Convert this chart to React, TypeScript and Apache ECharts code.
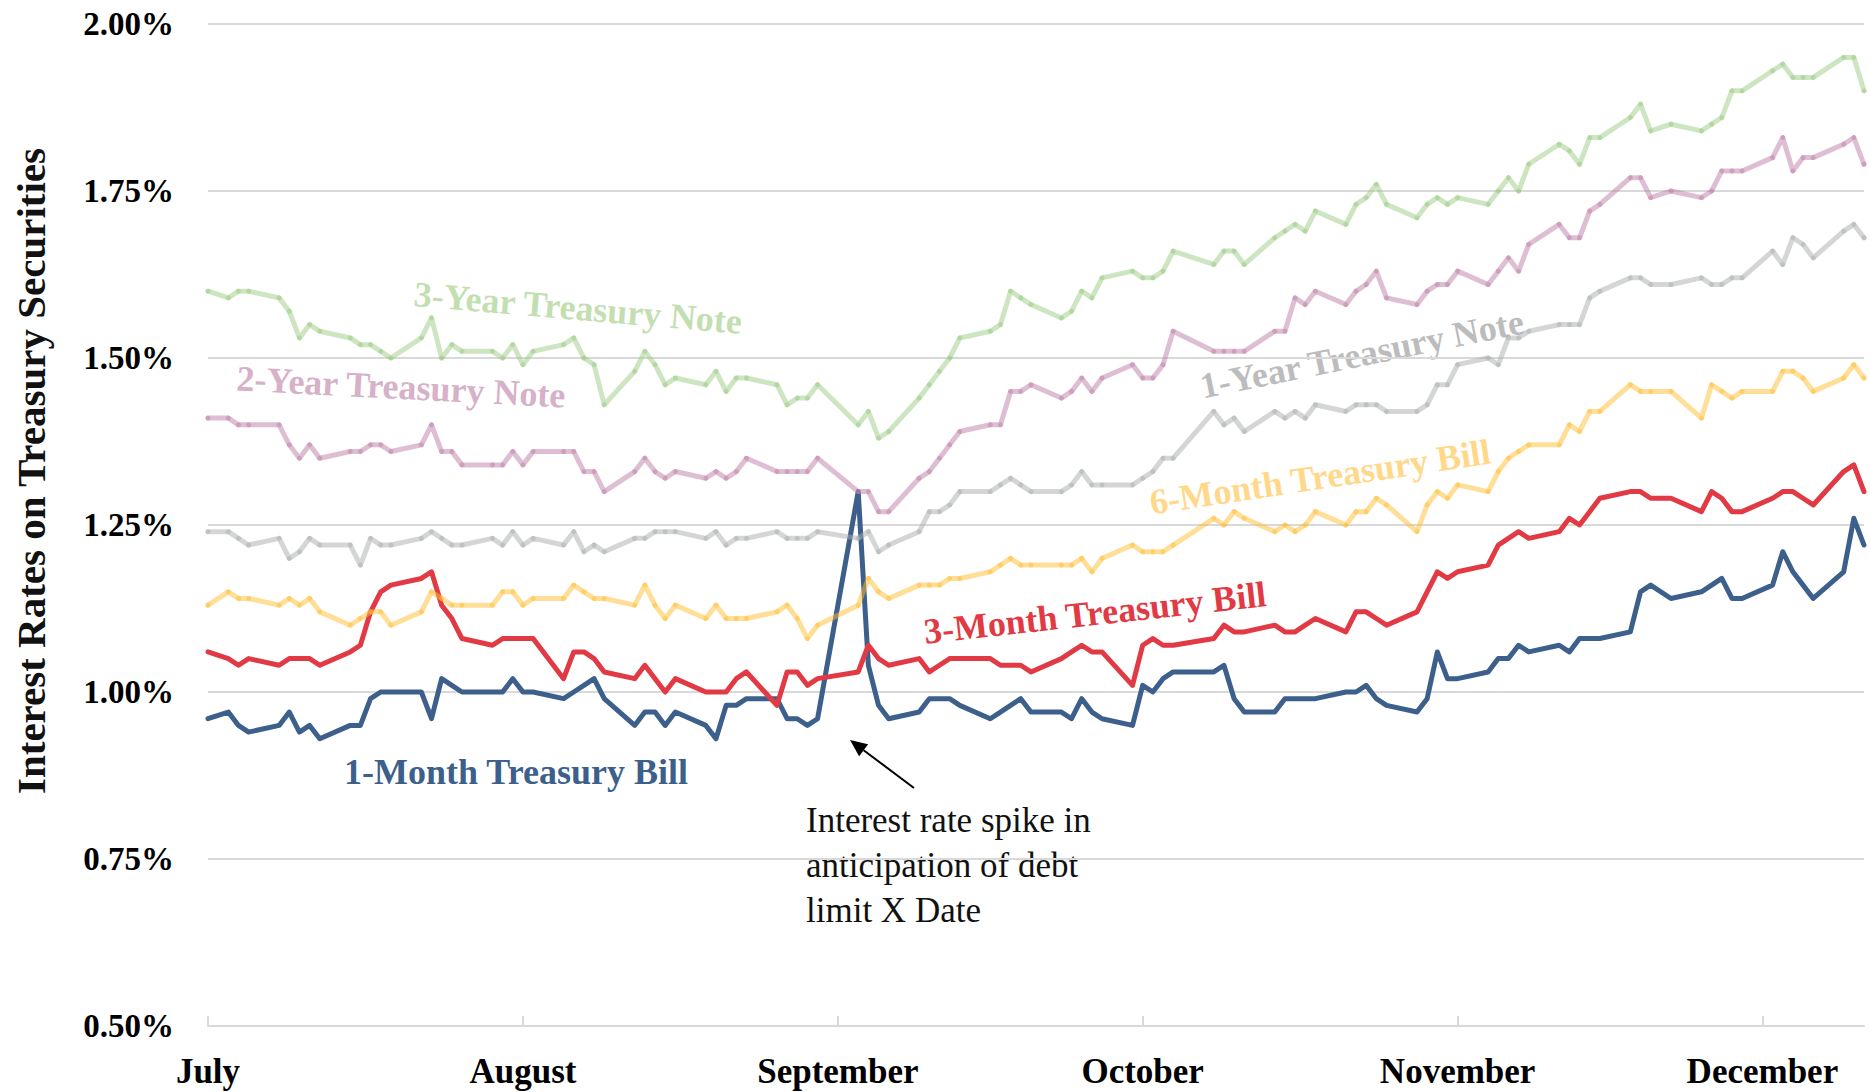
import React, { useEffect, useRef } from 'react';
import * as echarts from 'echarts';

const SERIF = '"Liberation Serif", "Times New Roman", serif';

// Trading days (2017)
const dates = [
  '2017-07-03','2017-07-05','2017-07-06','2017-07-07','2017-07-10','2017-07-11','2017-07-12','2017-07-13','2017-07-14','2017-07-17','2017-07-18','2017-07-19','2017-07-20','2017-07-21','2017-07-24','2017-07-25','2017-07-26','2017-07-27','2017-07-28','2017-07-31',
  '2017-08-01','2017-08-02','2017-08-03','2017-08-04','2017-08-07','2017-08-08','2017-08-09','2017-08-10','2017-08-11','2017-08-14','2017-08-15','2017-08-16','2017-08-17','2017-08-18','2017-08-21','2017-08-22','2017-08-23','2017-08-24','2017-08-25','2017-08-28','2017-08-29','2017-08-30','2017-08-31',
  '2017-09-01','2017-09-05','2017-09-06','2017-09-07','2017-09-08','2017-09-11','2017-09-12','2017-09-13','2017-09-14','2017-09-15','2017-09-18','2017-09-19','2017-09-20','2017-09-21','2017-09-22','2017-09-25','2017-09-26','2017-09-27','2017-09-28','2017-09-29',
  '2017-10-02','2017-10-03','2017-10-04','2017-10-05','2017-10-06','2017-10-10','2017-10-11','2017-10-12','2017-10-13','2017-10-16','2017-10-17','2017-10-18','2017-10-19','2017-10-20','2017-10-23','2017-10-24','2017-10-25','2017-10-26','2017-10-27','2017-10-30','2017-10-31',
  '2017-11-01','2017-11-02','2017-11-03','2017-11-06','2017-11-07','2017-11-08','2017-11-09','2017-11-10','2017-11-13','2017-11-14','2017-11-15','2017-11-16','2017-11-17','2017-11-20','2017-11-21','2017-11-22','2017-11-24','2017-11-27','2017-11-28','2017-11-29','2017-11-30',
  '2017-12-01','2017-12-04','2017-12-05','2017-12-06','2017-12-07','2017-12-08','2017-12-11','2017-12-12','2017-12-13',
];

const threeYearNote = [
  1.60,1.59,1.60,1.60,1.59,1.57,1.53,1.55,1.54,1.53,1.52,1.52,1.51,1.50,1.53,1.56,1.50,1.52,1.51,1.51,
  1.50,1.52,1.49,1.51,1.52,1.53,1.50,1.49,1.43,1.48,1.51,1.49,1.46,1.47,1.46,1.48,1.45,1.47,1.47,1.46,1.43,1.44,1.44,
  1.46,1.40,1.42,1.38,1.39,1.44,1.46,1.48,1.50,1.53,1.54,1.55,1.60,1.59,1.58,1.56,1.57,1.60,1.59,1.62,
  1.63,1.62,1.62,1.63,1.66,1.64,1.66,1.66,1.64,1.68,1.69,1.70,1.69,1.72,1.70,1.73,1.74,1.76,1.73,1.71,1.73,
  1.74,1.73,1.74,1.73,1.75,1.77,1.75,1.79,1.82,1.81,1.79,1.83,1.83,1.86,1.88,1.84,1.85,1.84,1.85,1.86,1.90,
  1.90,1.93,1.94,1.92,1.92,1.92,1.95,1.95,1.90,
];

const twoYearNote = [
  1.41,1.41,1.40,1.40,1.40,1.37,1.35,1.37,1.35,1.36,1.36,1.37,1.37,1.36,1.37,1.40,1.36,1.36,1.34,1.34,
  1.34,1.36,1.34,1.36,1.36,1.36,1.33,1.33,1.30,1.33,1.35,1.33,1.32,1.33,1.32,1.33,1.32,1.33,1.35,1.33,1.33,1.33,1.33,
  1.35,1.30,1.30,1.27,1.27,1.32,1.33,1.35,1.37,1.39,1.40,1.40,1.45,1.45,1.46,1.44,1.45,1.47,1.45,1.47,
  1.49,1.47,1.47,1.49,1.54,1.51,1.51,1.51,1.51,1.54,1.54,1.59,1.58,1.60,1.58,1.60,1.61,1.63,1.59,1.58,1.60,
  1.61,1.61,1.63,1.61,1.63,1.65,1.63,1.67,1.70,1.68,1.68,1.72,1.73,1.77,1.77,1.74,1.75,1.74,1.75,1.78,1.78,
  1.78,1.80,1.83,1.78,1.80,1.80,1.82,1.83,1.79,
];

const oneYearNote = [
  1.24,1.24,1.23,1.22,1.23,1.20,1.21,1.23,1.22,1.22,1.19,1.23,1.22,1.22,1.23,1.24,1.23,1.22,1.22,1.23,
  1.22,1.24,1.22,1.23,1.22,1.24,1.21,1.22,1.21,1.23,1.23,1.24,1.24,1.24,1.23,1.24,1.22,1.23,1.23,1.24,1.23,1.23,1.23,
  1.24,1.23,1.24,1.21,1.22,1.24,1.27,1.27,1.28,1.30,1.30,1.31,1.32,1.31,1.30,1.30,1.31,1.33,1.31,1.31,
  1.31,1.32,1.33,1.35,1.35,1.42,1.40,1.41,1.39,1.42,1.41,1.42,1.41,1.43,1.42,1.43,1.43,1.43,1.42,1.42,1.43,
  1.46,1.46,1.49,1.50,1.49,1.53,1.53,1.54,1.55,1.55,1.55,1.59,1.60,1.62,1.62,1.61,1.61,1.62,1.61,1.61,1.62,
  1.62,1.66,1.64,1.68,1.67,1.65,1.69,1.70,1.68,
];

const sixMonthBill = [
  1.13,1.15,1.14,1.14,1.13,1.14,1.13,1.14,1.12,1.10,1.11,1.12,1.12,1.10,1.12,1.15,1.14,1.13,1.13,1.13,
  1.15,1.15,1.13,1.14,1.14,1.16,1.15,1.14,1.14,1.13,1.16,1.13,1.11,1.13,1.11,1.13,1.11,1.11,1.11,1.12,1.13,1.11,1.08,
  1.10,1.13,1.17,1.15,1.14,1.16,1.16,1.16,1.17,1.17,1.18,1.19,1.20,1.19,1.19,1.19,1.19,1.20,1.18,1.20,
  1.22,1.21,1.21,1.21,1.22,1.26,1.25,1.27,1.26,1.24,1.25,1.24,1.25,1.27,1.25,1.27,1.27,1.29,1.28,1.24,1.28,
  1.30,1.29,1.31,1.30,1.33,1.35,1.36,1.37,1.37,1.40,1.39,1.42,1.42,1.46,1.45,1.45,1.45,1.41,1.46,1.45,1.44,
  1.45,1.45,1.48,1.48,1.47,1.45,1.47,1.49,1.47,
];

const threeMonthBill = [
  1.06,1.05,1.04,1.05,1.04,1.05,1.05,1.05,1.04,1.06,1.07,1.12,1.15,1.16,1.17,1.18,1.13,1.11,1.08,1.07,
  1.08,1.08,1.08,1.08,1.02,1.06,1.06,1.05,1.03,1.02,1.04,1.02,1.00,1.02,1.00,1.00,1.00,1.02,1.03,0.98,1.03,1.03,1.01,
  1.02,1.03,1.07,1.05,1.04,1.05,1.03,1.04,1.05,1.05,1.05,1.04,1.04,1.04,1.03,1.05,1.06,1.07,1.06,1.06,
  1.01,1.07,1.08,1.07,1.07,1.08,1.10,1.09,1.09,1.10,1.09,1.09,1.10,1.11,1.09,1.12,1.12,1.11,1.10,1.12,1.15,
  1.18,1.17,1.18,1.19,1.22,1.23,1.24,1.23,1.24,1.26,1.25,1.27,1.29,1.30,1.30,1.29,1.29,1.27,1.30,1.29,1.27,
  1.27,1.29,1.30,1.30,1.29,1.28,1.33,1.34,1.30,
];

const oneMonthBill = [
  0.96,0.97,0.95,0.94,0.95,0.97,0.94,0.95,0.93,0.95,0.95,0.99,1.00,1.00,1.00,0.96,1.02,1.01,1.00,1.00,
  1.00,1.02,1.00,1.00,0.99,1.00,1.01,1.02,0.99,0.95,0.97,0.97,0.95,0.97,0.95,0.93,0.98,0.98,0.99,0.99,0.96,0.96,0.95,
  0.96,1.30,1.04,0.98,0.96,0.97,0.99,0.99,0.99,0.98,0.96,0.97,0.98,0.99,0.97,0.97,0.96,0.99,0.97,0.96,
  0.95,1.01,1.00,1.02,1.03,1.03,1.04,0.99,0.97,0.97,0.99,0.99,0.99,0.99,1.00,1.00,1.01,0.99,0.98,0.97,0.99,
  1.06,1.02,1.02,1.03,1.05,1.05,1.07,1.06,1.07,1.06,1.08,1.08,1.08,1.09,1.15,1.16,1.14,1.15,1.16,1.17,1.14,
  1.14,1.16,1.21,1.18,1.16,1.14,1.18,1.26,1.22,
];

// Month ticks (Excel date axis: one month steps from the first date)
const tickDates = ['2017-07-03','2017-08-03','2017-09-03','2017-10-03','2017-11-03','2017-12-03'];
const tickLabels = ['July','August','September','October','November','December'];

const yMin = 0.5;
const yMax = 2.0;
const yStep = 0.25;

const DAY = 86400000;
const dayOffset = (d: string) => Math.round((Date.parse(d) - Date.parse(dates[0])) / DAY);

const seriesDefs = [
  { name: '1-Month Treasury Bill', values: oneMonthBill, color: '#3c5f8b', dots: false },
  { name: '3-Month Treasury Bill', values: threeMonthBill, color: '#e23a44', dots: false },
  { name: '6-Month Treasury Bill', values: sixMonthBill, color: 'rgba(255,190,50,0.5)', dots: true },
  { name: '1-Year Treasury Note', values: oneYearNote, color: 'rgba(170,174,174,0.5)', dots: true },
  { name: '2-Year Treasury Note', values: twoYearNote, color: 'rgba(190,125,165,0.5)', dots: true },
  { name: '3-Year Treasury Note', values: threeYearNote, color: 'rgba(150,200,125,0.48)', dots: true },
];

// in-chart series labels (layout only)
const labelLayout = [
  { text: '3-Year Treasury Note', color: '#c3dfb2', x: 578, y: 308, rot: -0.085 },
  { text: '2-Year Treasury Note', color: '#d6b1c8', x: 401, y: 387, rot: -0.052 },
  { text: '1-Year Treasury Note', color: '#bcbcbc', x: 1362, y: 354, rot: 0.2 },
  { text: '6-Month Treasury Bill', color: '#ffd88a', x: 1320, y: 477, rot: 0.15 },
  { text: '3-Month Treasury Bill', color: '#e23a44', x: 1095, y: 613, rot: 0.11 },
  { text: '1-Month Treasury Bill', color: '#3c5f8b', x: 516, y: 772, rot: 0 },
];

function arrow(tail: number[], tip: number[], headLen: number, headHalf: number) {
  const dx = tip[0] - tail[0];
  const dy = tip[1] - tail[1];
  const len = Math.sqrt(dx * dx + dy * dy);
  const ux = dx / len;
  const uy = dy / len;
  const bx = tip[0] - ux * headLen;
  const by = tip[1] - uy * headLen;
  const nx = -uy;
  const ny = ux;
  return [
    { type: 'line', silent: true, shape: { x1: tail[0], y1: tail[1], x2: bx, y2: by }, style: { stroke: '#000', lineWidth: 2 } },
    {
      type: 'polygon', silent: true,
      shape: { points: [[tip[0], tip[1]], [bx + nx * headHalf, by + ny * headHalf], [bx - nx * headHalf, by - ny * headHalf]] },
      style: { fill: '#000' },
    },
  ];
}

export default function App() {
  const ref = useRef<HTMLDivElement>(null);

  useEffect(() => {
    document.body.style.margin = '0';
    if (!ref.current) return;
    const chart = echarts.init(ref.current, undefined, { renderer: 'svg' });
    const tickOffsets = tickDates.map(dayOffset);
    const xMax = dayOffset(dates[dates.length - 1]);

    const graphics: any[] = [
      {
        type: 'text', silent: true, x: 31, y: 471, rotation: Math.PI / 2,
        style: {
          text: 'Interest Rates on Treasury Securities', fill: '#111',
          font: `bold 41px ${SERIF}`, align: 'center', verticalAlign: 'middle',
          textAlign: 'center', textVerticalAlign: 'middle',
        },
      },
      ...labelLayout.map((l) => ({
        type: 'text', silent: true, x: l.x, y: l.y, rotation: l.rot,
        style: {
          text: l.text, fill: l.color, font: `bold 36px ${SERIF}`,
          align: 'center', verticalAlign: 'middle', textAlign: 'center', textVerticalAlign: 'middle',
        },
      })),
      {
        type: 'text', silent: true, x: 806, y: 798,
        style: {
          text: 'Interest rate spike in\nanticipation of debt\nlimit X Date', fill: '#111',
          font: `35px ${SERIF}`, lineHeight: 45, align: 'left', verticalAlign: 'top',
          textAlign: 'left', textVerticalAlign: 'top',
        },
      },
      ...arrow([914, 788], [850, 740], 17, 7.5),
    ];

    chart.setOption({
      animation: false,
      backgroundColor: '#fff',
      grid: { left: 208, right: 6, top: 24, bottom: 66, containLabel: false },
      xAxis: {
        type: 'value', min: 0, max: xMax,
        axisLine: { show: true, lineStyle: { color: '#d9d9d9', width: 2 } },
        axisTick: { show: true, inside: true, length: 10, customValues: tickOffsets, lineStyle: { color: '#d9d9d9', width: 2 } },
        axisLabel: {
          customValues: tickOffsets,
          formatter: (v: number) => {
            const i = tickOffsets.findIndex((t) => Math.abs(t - v) < 0.5);
            return i >= 0 ? tickLabels[i] : '';
          },
          color: '#000', fontFamily: SERIF, fontWeight: 'bold', fontSize: 35, margin: 28,
        },
        splitLine: { show: false },
      },
      yAxis: {
        type: 'value', min: yMin, max: yMax, interval: yStep,
        axisLine: { show: false }, axisTick: { show: false },
        splitLine: { show: true, lineStyle: { color: '#d9d9d9', width: 2 } },
        axisLabel: {
          formatter: (v: number) => v.toFixed(2) + '%',
          color: '#000', fontFamily: SERIF, fontWeight: 'bold', fontSize: 33, margin: 34,
        },
      },
      series: seriesDefs.map((s, idx) => ({
        type: 'line', name: s.name, z: 2 + idx, silent: true,
        data: dates.map((d, i) => [dayOffset(d), s.values[i]]),
        showSymbol: s.dots, symbol: 'circle', symbolSize: 5,
        itemStyle: { color: s.color, borderWidth: 0 },
        lineStyle: { color: s.color, width: 5, join: 'round', cap: 'round' },
        emphasis: { disabled: true },
      })),
      graphic: graphics,
    });

    return () => chart.dispose();
  }, []);

  return <div ref={ref} style={{ width: 1870, height: 1092 }} />;
}
